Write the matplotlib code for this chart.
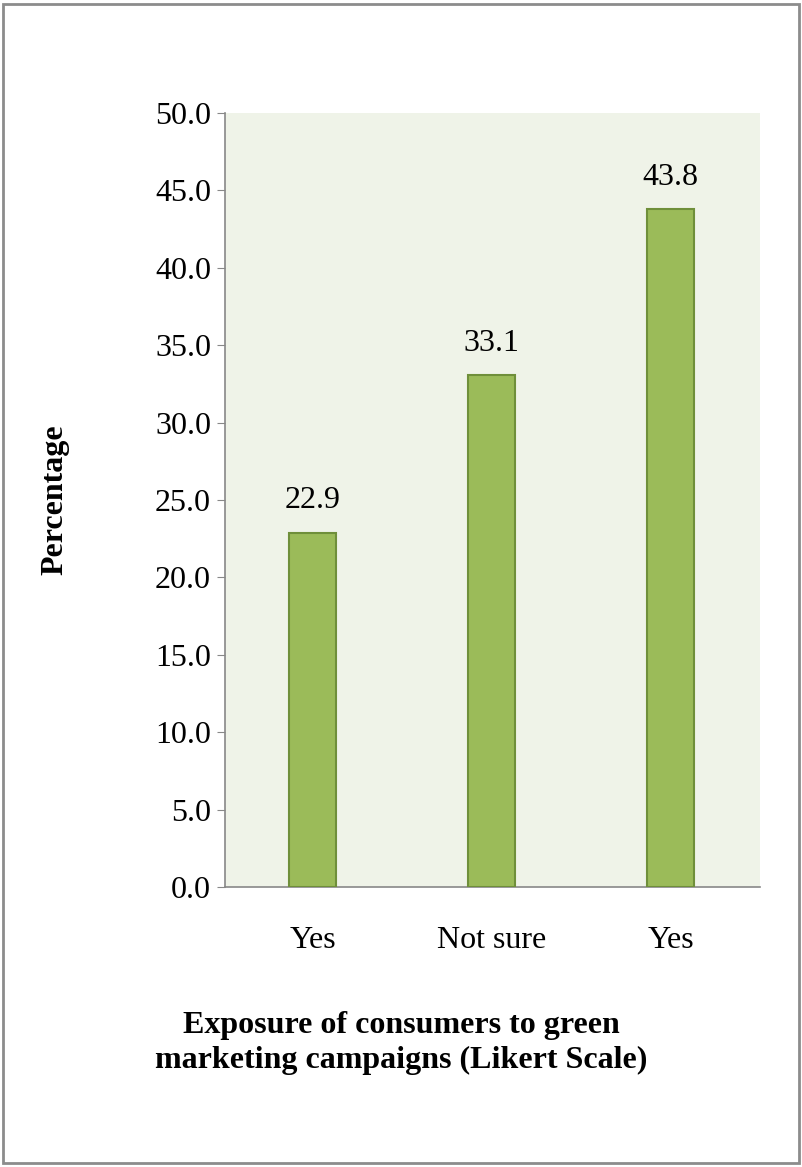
import matplotlib
matplotlib.use("Agg")
from matplotlib import pyplot as plt
from matplotlib.patches import Rectangle

categories = ["Yes", "Not sure", "Yes"]
values = [22.9, 33.1, 43.8]
yticks = [0, 5, 10, 15, 20, 25, 30, 35, 40, 45, 50]

plt.rcParams["font.family"] = ["Liberation Serif", "DejaVu Serif"]

fig = plt.figure(figsize=(8.02, 11.67), dpi=100)
fig.patches.append(Rectangle((0.004, 0.003), 0.992, 0.994, transform=fig.transFigure,
                             fill=False, edgecolor="#8c8c8c", linewidth=2))
ax = fig.add_axes([225 / 802, 1 - 887 / 1167, (760 - 225) / 802, (887 - 113) / 1167])
ax.set_facecolor("#eff3e8")

xs = list(range(len(categories)))
ax.bar(xs, values, width=0.265, color="#9bbb59", edgecolor="#6f8f3a", linewidth=1.5, zorder=3)
for x, v in zip(xs, values):
    ax.text(x, v + 1.1, f"{v:.1f}", ha="center", va="bottom", fontsize=23)

ax.set_xlim(-0.49, 2.5)
ax.set_ylim(0, 50)
ax.set_yticks(yticks)
ax.set_yticklabels([f"{t:.1f}" for t in yticks], fontsize=23)
ax.set_xticks(xs)
ax.set_xticklabels(categories, fontsize=23)
ax.tick_params(axis="x", length=0, pad=28)
ax.tick_params(axis="y", length=6, direction="out", color="#888888", pad=4)
for s in ["top", "right"]:
    ax.spines[s].set_visible(False)
for s in ["left", "bottom"]:
    ax.spines[s].set_color("#888888")
    ax.spines[s].set_linewidth(1.2)

ax.set_ylabel("Percentage", fontsize=23, fontweight="bold")
ax.yaxis.set_label_coords(-0.29, 0.5)
fig.text(0.5, 1 - 1043 / 1167, "Exposure of consumers to green\nmarketing campaigns (Likert Scale)",
         ha="center", va="center", fontsize=23, fontweight="bold", linespacing=1.3)

fig.savefig("out.png", dpi=100)
